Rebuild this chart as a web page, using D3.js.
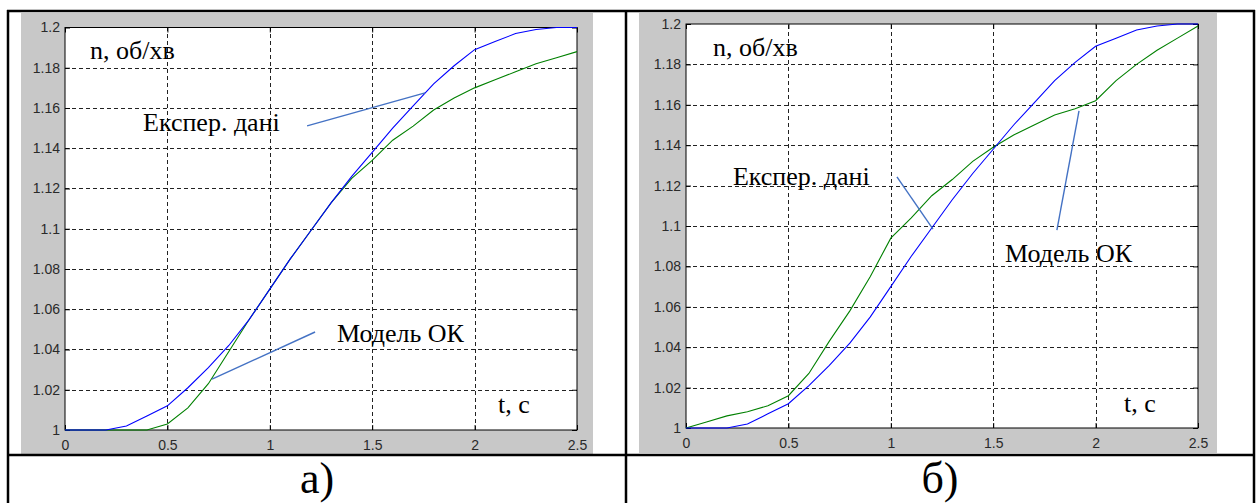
<!DOCTYPE html>
<html>
<head>
<meta charset="utf-8">
<script src="https://cdn.jsdelivr.net/npm/d3@7"></script>
<style>
  body { margin: 0; background: #fff; }
  svg { display: block; }
  .serif { font-family: 'Liberation Serif', 'Times New Roman', 'DejaVu Serif', serif; }
  .axis text { font-family: 'Liberation Sans', Arial, sans-serif; }
</style>
</head>
<body>
<script>
// time axis, s
var timeSec = [0, 0.1, 0.2, 0.3, 0.4, 0.5, 0.6, 0.7, 0.8, 0.9, 1.0, 1.1, 1.2,
               1.3, 1.4, 1.5, 1.6, 1.7, 1.8, 1.9, 2.0, 2.1, 2.2, 2.3, 2.4, 2.5];

// experimental data (blue), same on both panels
var expData = [1, 1, 1, 1.002, 1.007, 1.012, 1.021, 1.031, 1.042, 1.055, 1.070, 1.085, 1.099,
               1.113, 1.126, 1.138, 1.150, 1.161, 1.172, 1.181, 1.189, 1.193, 1.197, 1.199, 1.2, 1.2];

// model OK, panel a (green)
var modelA = [1, 1, 1, 1, 1, 1.003, 1.011, 1.023, 1.039, 1.055, 1.070, 1.085, 1.099,
              1.113, 1.125, 1.134, 1.144, 1.151, 1.159, 1.165, 1.170, 1.174, 1.178, 1.182, 1.185, 1.188];

// model OK, panel б (green)
var modelB = [1, 1.003, 1.006, 1.008, 1.011, 1.016, 1.027, 1.043, 1.058, 1.075, 1.094, 1.104, 1.115,
              1.123, 1.132, 1.139, 1.145, 1.150, 1.155, 1.158, 1.162, 1.172, 1.180, 1.187, 1.193, 1.199];

var xTicks = [0, 0.5, 1, 1.5, 2, 2.5];
var yTicks = [1, 1.02, 1.04, 1.06, 1.08, 1.1, 1.12, 1.14, 1.16, 1.18, 1.2];
var xTickLabels = ["0", "0.5", "1", "1.5", "2", "2.5"];
var yTickLabels = ["1", "1.02", "1.04", "1.06", "1.08", "1.1", "1.12", "1.14", "1.16", "1.18", "1.2"];

var captions = ["а)", "б)"];

// annotations in data units: [t, n]
var notesA = [
  {text: "n, об/хв", at: [0.122, 1.1843]},
  {text: "Експер. дані", at: [0.381, 1.1486], from: [1.182, 1.1511], to: [1.758, 1.1675]},
  {text: "Модель ОК", at: [1.328, 1.0437], from: [0.718, 1.0253], to: [1.221, 1.0487]},
  {text: "t, с", at: [2.114, 1.0084]}
];
var notesB = [
  {text: "n, об/хв", at: [0.132, 1.1842]},
  {text: "Експер. дані", at: [0.229, 1.1203], from: [1.030, 1.1243], to: [1.206, 1.0985]},
  {text: "Модель ОК", at: [1.558, 1.0822], from: [1.811, 1.098], to: [1.919, 1.157]},
  {text: "t, с", at: [2.139, 1.0079]}
];

var width = 1256
var height = 503

var svg = d3.select("body")
            .append("svg")
            .attr("width", width)
            .attr("height", height)

svg.append("rect")
   .attr("width", width)
   .attr("height", height)
   .attr("fill", "#fff")

var panels = [
  {left: 65, top: 27.5, right: 577, bottom: 430, bg: [21, 13, 593, 454], model: modelA, notes: notesA, cx: 317},
  {left: 686, top: 24, right: 1198, bottom: 428, bg: [639, 13, 1217, 453], model: modelB, notes: notesB, cx: 940}
];

var drawPanel = function(p, idx){

  svg.append("rect")
     .attr("x", p.bg[0])
     .attr("y", p.bg[1])
     .attr("width", p.bg[2] - p.bg[0])
     .attr("height", p.bg[3] - p.bg[1])
     .attr("fill", "#c8c8c8")

  var xScale = d3.scaleLinear()
                 .domain([0, 2.5])
                 .range([p.left, p.right]);

  var yScale = d3.scaleLinear()
                 .domain([1, 1.2])
                 .range([p.bottom, p.top]);

  svg.append("rect")
     .attr("x", p.left)
     .attr("y", p.top)
     .attr("width", p.right - p.left)
     .attr("height", p.bottom - p.top)
     .attr("fill", "#fff")

  // dashed grid
  var grid = svg.append("g")
                .attr("stroke", "#222")
                .attr("stroke-width", 1)
                .attr("stroke-dasharray", "4,3")

  grid.selectAll(".gx")
      .data(xTicks.slice(1, -1))
      .enter()
      .append("line")
      .attr("x1", function(d){ return Math.round(xScale(d)) + 0.5; })
      .attr("x2", function(d){ return Math.round(xScale(d)) + 0.5; })
      .attr("y1", p.bottom)
      .attr("y2", p.top)

  grid.selectAll(".gy")
      .data(yTicks.slice(1, -1))
      .enter()
      .append("line")
      .attr("y1", function(d){ return Math.round(yScale(d)) + 0.5; })
      .attr("y2", function(d){ return Math.round(yScale(d)) + 0.5; })
      .attr("x1", p.left)
      .attr("x2", p.right)

  var xAxis = d3.axisBottom()
                .scale(xScale)
                .tickValues(xTicks)
                .tickFormat(function(d, i){ return xTickLabels[i]; })
                .tickSizeInner(-5)
                .tickSizeOuter(0)
                .tickPadding(10);

  var yAxis = d3.axisLeft()
                .scale(yScale)
                .tickValues(yTicks)
                .tickFormat(function(d, i){ return yTickLabels[i]; })
                .tickSizeInner(-5)
                .tickSizeOuter(0)
                .tickPadding(5);

  svg.append("g")
     .attr("class", "axis")
     .attr("transform", "translate(0," + p.bottom + ")")
     .call(xAxis);

  svg.append("g")
     .attr("class", "axis")
     .attr("transform", "translate(" + p.left + ",0)")
     .call(yAxis);

  svg.selectAll(".axis text")
     .attr("font-family", null)
     .attr("font-size", 14)
     .attr("fill", "#2a2a2a")

  svg.selectAll(".axis").attr("font-family", null)
  svg.selectAll(".axis .domain").remove()

  // ticks on top and right too
  svg.append("g")
     .attr("transform", "translate(0," + p.top + ")")
     .call(d3.axisTop(xScale).tickValues(xTicks).tickSizeInner(-5).tickSizeOuter(0).tickFormat(""))
     .select(".domain").remove()

  svg.append("g")
     .attr("transform", "translate(" + p.right + ",0)")
     .call(d3.axisRight(yScale).tickValues(yTicks).tickSizeInner(-5).tickSizeOuter(0).tickFormat(""))
     .select(".domain").remove()

  svg.append("rect")
     .attr("x", p.left)
     .attr("y", p.top)
     .attr("width", p.right - p.left)
     .attr("height", p.bottom - p.top)
     .attr("fill", "none")
     .attr("stroke", "#000")
     .attr("stroke-width", 1)

  var line = d3.line()
               .x(function(d){ return xScale(d[0]); })
               .y(function(d){ return yScale(d[1]); });

  svg.append("path")
     .datum(d3.zip(timeSec, p.model))
     .attr("d", line)
     .attr("fill", "none")
     .attr("stroke", "#008000")
     .attr("stroke-width", 1.1)

  svg.append("path")
     .datum(d3.zip(timeSec, expData))
     .attr("d", line)
     .attr("fill", "none")
     .attr("stroke", "#0000ff")
     .attr("stroke-width", 1.1)

  // annotations
  p.notes.forEach(function(n){
    if (n.from) {
      svg.append("line")
         .attr("x1", xScale(n.from[0]))
         .attr("y1", yScale(n.from[1]))
         .attr("x2", xScale(n.to[0]))
         .attr("y2", yScale(n.to[1]))
         .attr("stroke", "#4472c4")
         .attr("stroke-width", 1.4)
    }
    svg.append("text")
       .attr("class", "serif")
       .attr("x", xScale(n.at[0]))
       .attr("y", yScale(n.at[1]))
       .attr("font-size", 26)
       .attr("fill", "#000")
       .text(n.text)
  });

  svg.append("text")
     .attr("class", "serif")
     .attr("x", p.cx)
     .attr("y", 493)
     .attr("text-anchor", "middle")
     .attr("font-size", 44)
     .attr("fill", "#000")
     .text(captions[idx])
};

panels.forEach(drawPanel);

// table borders
var borders = svg.append("g")
                 .attr("stroke", "#000")
                 .attr("stroke-width", 2.5)

borders.append("line").attr("x1", 7).attr("y1", 11).attr("x2", 1255).attr("y2", 11)
borders.append("line").attr("x1", 7).attr("y1", 455).attr("x2", 1255).attr("y2", 455)
borders.append("line").attr("x1", 8).attr("y1", 10).attr("x2", 8).attr("y2", 503)
borders.append("line").attr("x1", 626).attr("y1", 10).attr("x2", 626).attr("y2", 503)
borders.append("line").attr("x1", 1254).attr("y1", 10).attr("x2", 1254).attr("y2", 503)
</script>
</body>
</html>
